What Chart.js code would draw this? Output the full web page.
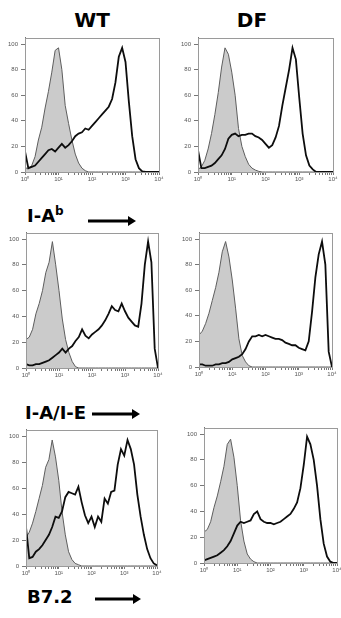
<!DOCTYPE html>
<html>
<head>
<meta charset="utf-8">
<script src="https://cdn.jsdelivr.net/npm/chart.js@4.4.1/dist/chart.umd.min.js"></script>
<style>
  body { margin: 0; background: #fff; width: 341px; height: 618px; position: relative; overflow: hidden; font-family: "DejaVu Sans", sans-serif; }
  canvas { position: absolute; }
  .head { position: absolute; width: 100px; text-align: center; font-weight: bold; font-size: 20px; line-height: 20px; color: #000; }
  .marker { position: absolute; font-weight: bold; font-size: 18px; line-height: 18px; color: #000; white-space: nowrap; }
  .marker sup { font-size: 12px; vertical-align: 7px; line-height: 0; }
  .arrow { position: absolute; }
</style>
</head>
<body>
<div class="head" style="left:42px; top:10px;">WT</div>
<div class="head" style="left:202px; top:10px;">DF</div>

<div class="marker" style="left:27px; top:207px;">I-A<sup>b</sup></div>
<svg class="arrow" style="left:88px; top:215px;" width="50" height="12"><polygon points="0,4.5 40,4.5 40,1 48,6 40,11 40,7.5 0,7.5" fill="#000"/></svg>

<div class="marker" style="left:25px; top:404px;">I-A/I-E</div>
<svg class="arrow" style="left:92px; top:408px;" width="50" height="12"><polygon points="0,4.5 40,4.5 40,1 48,6 40,11 40,7.5 0,7.5" fill="#000"/></svg>

<div class="marker" style="left:27px; top:588px;">B7.2</div>
<svg class="arrow" style="left:95px; top:593px;" width="50" height="12"><polygon points="0,4.5 38,4.5 38,1 46,6 38,11 38,7.5 0,7.5" fill="#000"/></svg>

<script>
// fluorescence intensity, in decades (10^0 .. 10^4)
const decades = [0, 0.1, 0.2, 0.3, 0.4, 0.5, 0.6, 0.7, 0.8, 0.9,
                 1.0, 1.1, 1.2, 1.3, 1.4, 1.5, 1.6, 1.7, 1.8, 1.9,
                 2.0, 2.1, 2.2, 2.3, 2.4, 2.5, 2.6, 2.7, 2.8, 2.9,
                 3.0, 3.1, 3.2, 3.3, 3.4, 3.5, 3.6, 3.7, 3.8, 3.9, 4.0];
const yTicks = [0, 20, 40, 60, 80, 100];
const decadeLabels = ['10⁰', '10¹', '10²', '10³', '10⁴'];

// % of max - isotype control (grey) and stained (black)
const wtIabIso = [3, 3, 5, 12, 25, 35, 50, 63, 78, 95,
                  97, 80, 52, 38, 25, 14, 7, 3, 1, 0,
                  0, 0, 0, 0, 0, 0, 0, 0, 0, 0,
                  0, 0, 0, 0, 0, 0, 0, 0, 0, 0, 0];
const wtIab = [16, 3, 4, 5, 8, 11, 14, 17, 18, 16,
               19, 22, 19, 21, 24, 28, 30, 31, 34, 33,
               36, 39, 42, 45, 48, 51, 57, 70, 90, 97,
               86, 55, 28, 10, 3, 0.5, 0, 0, 0, 0, 0];
const dfIabIso = [2, 4, 9, 18, 30, 45, 62, 82, 97, 92,
                  78, 60, 34, 20, 12, 6, 3, 1.5, 0.5, 0,
                  0, 0, 0, 0, 0, 0, 0, 0, 0, 0,
                  0, 0, 0, 0, 0, 0, 0, 0, 0, 0, 0];
const dfIab = [17, 3, 3, 4, 5, 7, 10, 13, 18, 26,
               29, 30, 28, 29, 29, 30, 30, 28, 27, 25,
               22, 19, 21, 27, 36, 52, 66, 80, 97, 88,
               58, 30, 13, 5, 2, 0, 0, 0, 0, 0, 0];
const wtIaieIso = [22, 24, 30, 42, 50, 60, 74, 82, 98, 80,
                   60, 38, 22, 12, 5, 1, 0, 0, 0, 0,
                   0, 0, 0, 0, 0, 0, 0, 0, 0, 0,
                   0, 0, 0, 0, 0, 0, 0, 0, 0, 0, 0];
const wtIaie = [3, 2, 2, 3, 3, 4, 5, 6, 8, 10,
                12, 15, 12, 15, 17, 21, 24, 30, 25, 23,
                26, 28, 30, 33, 37, 42, 48, 45, 44, 50,
                44, 39, 36, 33, 32, 50, 80, 98, 82, 15, 0];
const dfIaieIso = [25, 28, 34, 42, 52, 62, 74, 90, 98, 86,
                   68, 46, 22, 9, 4, 1, 0, 0, 0, 0,
                   0, 0, 0, 0, 0, 0, 0, 0, 0, 0,
                   0, 0, 0, 0, 0, 0, 0, 0, 0, 0, 0];
const dfIaie = [2, 2, 1, 1, 1, 2, 2, 3, 3, 4,
                6, 7, 8, 10, 14, 20, 24, 24, 25, 24,
                25, 24, 23, 22, 22, 21, 19, 18, 17, 17,
                15, 14, 13, 20, 43, 70, 88, 98, 80, 12, 0];
const wtB72Iso = [22, 26, 33, 42, 52, 62, 76, 82, 97, 84,
                  66, 42, 24, 11, 5, 2, 1, 0, 0, 0,
                  0, 0, 0, 0, 0, 0, 0, 0, 0, 0,
                  0, 0, 0, 0, 0, 0, 0, 0, 0, 0, 0];
const wtB72 = [30, 6, 7, 11, 13, 16, 20, 24, 30, 38,
               37, 42, 53, 57, 56, 55, 61, 49, 39, 33,
               38, 30, 38, 34, 52, 48, 57, 58, 78, 90,
               85, 97, 90, 78, 55, 38, 24, 13, 6, 2, 0.5];
const dfB72Iso = [24, 26, 32, 43, 52, 63, 75, 92, 96, 82,
                  60, 33, 17, 7, 3, 1, 0, 0, 0, 0,
                  0, 0, 0, 0, 0, 0, 0, 0, 0, 0,
                  0, 0, 0, 0, 0, 0, 0, 0, 0, 0, 0];
const dfB72 = [2, 3, 4, 5, 6, 8, 10, 13, 17, 23,
               29, 32, 31, 32, 33, 38, 40, 34, 32, 31,
               31, 30, 31, 32, 34, 36, 38, 42, 47, 58,
               76, 98, 92, 80, 60, 34, 15, 5, 1, 0, 0];

// plot boxes (left, top, right, bottom) in page pixels
const panels = [
    { box: [25, 37, 159, 172], iso: wtIabIso, stain: wtIab },
    { box: [198, 37, 333, 172], iso: dfIabIso, stain: dfIab },
    { box: [26, 232, 158, 368], iso: wtIaieIso, stain: wtIaie },
    { box: [199, 232, 332, 367], iso: dfIaieIso, stain: dfIaie },
    { box: [26, 429, 157, 566], iso: wtB72Iso, stain: wtB72 },
    { box: [204, 427, 337, 563], iso: dfB72Iso, stain: dfB72 }
];

const Y_W = 24, X_H = 12, PAD_T = 6, PAD_R = 8;

const frame = {
    id: 'frame',
    afterDatasetsDraw(chart) {
        const a = chart.chartArea, ctx = chart.ctx;
        ctx.save();
        ctx.strokeStyle = '#9a9a9a';
        ctx.lineWidth = 1;
        ctx.strokeRect(Math.round(a.left) + 0.5, Math.round(a.top) + 0.5,
                       Math.round(a.right - a.left), Math.round(a.bottom - a.top));
        ctx.restore();
    }
};

const tickFont = { family: 'Liberation Sans', size: 6 };

panels.forEach(function (p) {
    const [l, t, r, b] = p.box;
    const canvas = document.createElement('canvas');
    canvas.width = (r - l) + Y_W + PAD_R;
    canvas.height = (b - t) + PAD_T + X_H;
    canvas.style.left = (l - Y_W) + 'px';
    canvas.style.top = (t - PAD_T) + 'px';
    document.body.appendChild(canvas);

    new Chart(canvas, {
        type: 'line',
        data: {
            datasets: [{
                data: decades.map((x, i) => ({ x: x, y: p.stain[i] })),
                borderColor: '#0d0d0d',
                borderWidth: 1.8,
                fill: false,
                order: 0
            }, {
                data: decades.map((x, i) => ({ x: x, y: p.iso[i] })),
                borderColor: '#5e5e5e',
                borderWidth: 1,
                backgroundColor: '#cbcbcb',
                fill: 'origin',
                order: 1
            }]
        },
        options: {
            responsive: false,
            animation: false,
            events: [],
            layout: { padding: { top: PAD_T, right: PAD_R, left: 0, bottom: 0 } },
            elements: { point: { radius: 0 }, line: { tension: 0 } },
            plugins: { legend: { display: false }, tooltip: { enabled: false } },
            scales: {
                x: {
                    type: 'linear',
                    min: 0,
                    max: 4,
                    afterFit: s => { s.height = X_H; },
                    afterBuildTicks: s => {
                        const ticks = [];
                        for (let d = 0; d < 4; d++) {
                            for (let m = 1; m < 10; m++) ticks.push({ value: d + Math.log10(m) });
                        }
                        ticks.push({ value: 4 });
                        s.ticks = ticks;
                    },
                    ticks: {
                        autoSkip: false,
                        maxRotation: 0,
                        padding: 1,
                        font: tickFont,
                        color: '#555',
                        callback: v => Number.isInteger(v) ? decadeLabels[v] : ''
                    },
                    grid: { drawOnChartArea: false, drawTicks: true, tickLength: 3, color: '#777' },
                    border: { color: '#777' }
                },
                y: {
                    min: 0,
                    max: 105,
                    afterFit: s => { s.width = Y_W; },
                    afterBuildTicks: s => { s.ticks = yTicks.map(v => ({ value: v })); },
                    ticks: { padding: 3, font: tickFont, color: '#555' },
                    grid: { drawOnChartArea: false, drawTicks: true, tickLength: 4, color: '#777' },
                    border: { color: '#777' }
                }
            }
        },
        plugins: [frame]
    });
});
</script>
</body>
</html>
